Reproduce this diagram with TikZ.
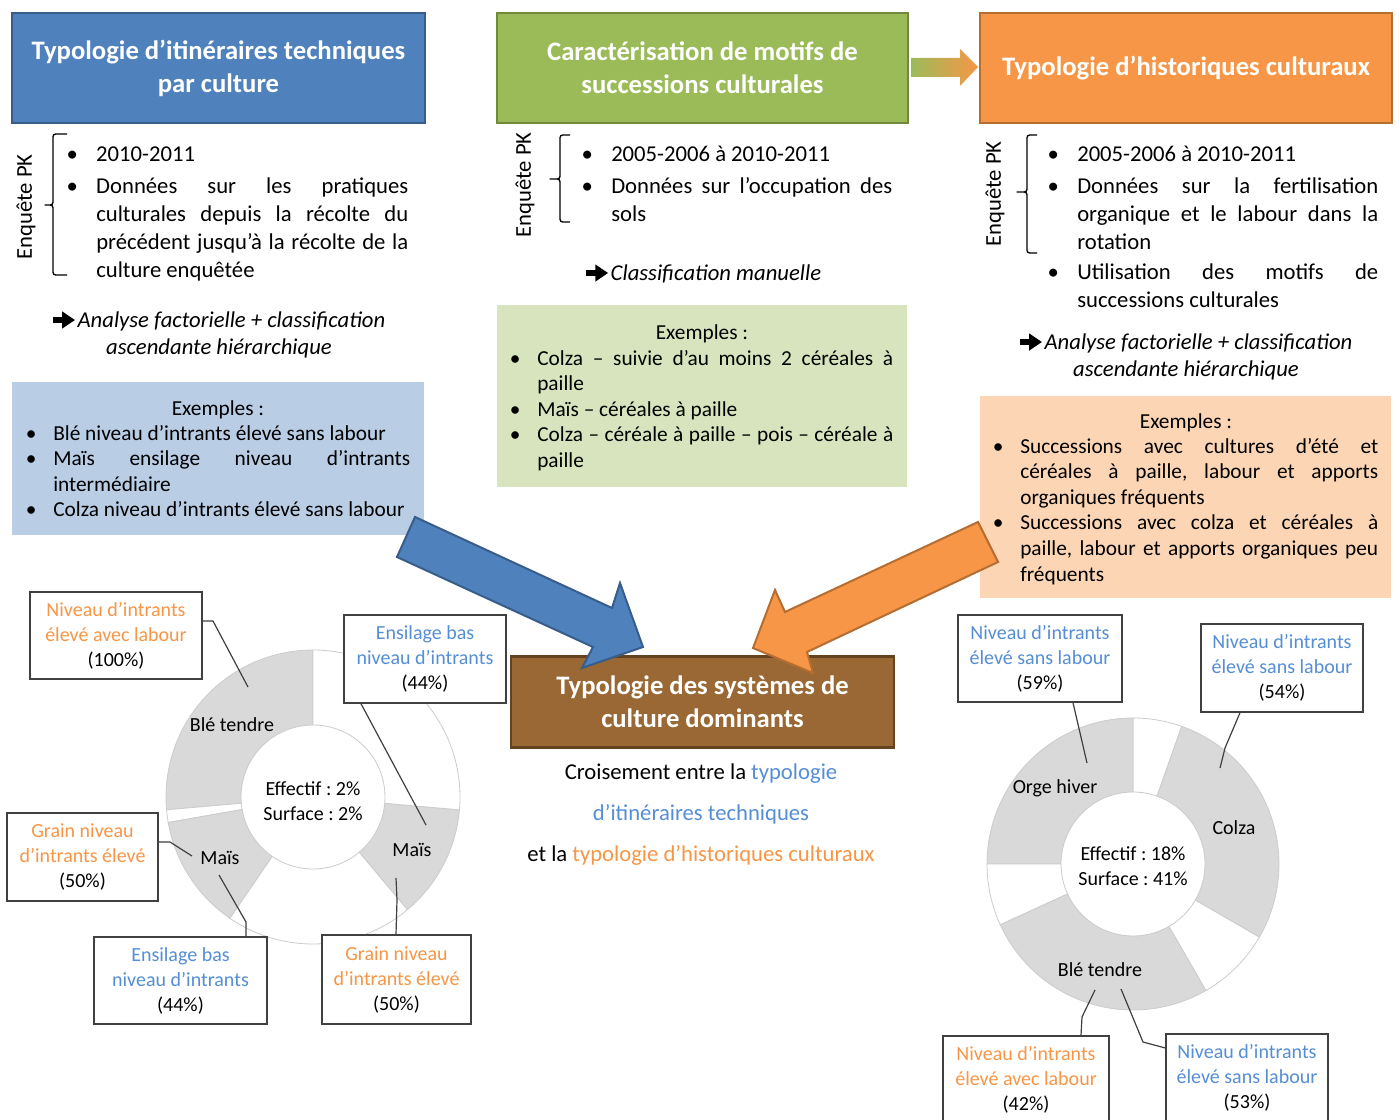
\documentclass[tikz,border=0pt]{standalone}
\usepackage{fontspec}
\setmainfont{Carlito}
\frenchspacing
\usetikzlibrary{calc}
\definecolor{hblue}{HTML}{4F81BD}
\definecolor{hblueD}{HTML}{385D8A}
\definecolor{hgreen}{HTML}{9BBB59}
\definecolor{hgreenD}{HTML}{71893F}
\definecolor{horange}{HTML}{F79646}
\definecolor{horangeD}{HTML}{B66D31}
\definecolor{hbrown}{HTML}{9A6834}
\definecolor{hbrownD}{HTML}{654321}
\definecolor{lblue}{HTML}{B9CDE5}
\definecolor{lgreen}{HTML}{D7E4BD}
\definecolor{lorange}{HTML}{FCD5B5}
\definecolor{tblue}{HTML}{558ED5}
\definecolor{torange}{HTML}{F79646}
\definecolor{pgray}{HTML}{D9D9D9}
\definecolor{pline}{HTML}{CCCCCC}
\definecolor{leadc}{HTML}{404040}
\newcommand\J[2]{\makebox[\dimexpr#1pt*3/4\relax][s]{#2}}
\newcommand\bb{\llap{\hbox to 22.3pt{\textbullet\hfil}}}
\newcommand\be{\llap{\hbox to 20.5pt{\textbullet\hfil}}}
\newcommand\arr{\tikz[baseline=-0.33em]{\fill (0em,-0.14em) rectangle (0.5em,0.14em); \fill (0.42em,-0.38em) -- (0.98em,0em) -- (0.42em,0.38em) -- cycle;}\hspace{0.12em}}
\newcommand\seg[5]{\path[fill=#3, draw=pline, line width=0.6pt] (#1:#4) arc[start angle=#1, end angle=#2, radius=#4] -- (#2:#5) arc[start angle=#2, end angle=#1, radius=#5] -- cycle;}
\tikzset{
  hdr/.style={line width=2pt, text=white, align=center, inner sep=0pt,
    font=\fontsize{20}{24.75}\selectfont\bfseries},
  body/.style={anchor=base west, inner sep=0pt, font=\fontsize{17}{21}\selectfont},
  exbody/.style={anchor=base west, inner sep=0pt, font=\fontsize{16}{19.2}\selectfont},
  extitle/.style={anchor=base, inner sep=0pt, font=\fontsize{16}{19.2}\selectfont},
  method/.style={anchor=base, inner sep=0pt, font=\fontsize{17}{20.25}\selectfont\itshape},
  enq/.style={rotate=90, inner sep=0pt, font=\fontsize{17}{21}\selectfont},
  brace/.style={line width=1pt, rounded corners=2pt},
  exbox/.style={inner sep=0pt},
  cbox/.style={draw=leadc, line width=1.1pt, fill=white, align=center, inner sep=0pt,
    font=\fontsize{15}{18.75}\selectfont},
  lbl/.style={inner sep=0pt, align=center, font=\fontsize{15}{18.75}\selectfont},
  leader/.style={draw=leadc, line width=0.9pt},
  bigarrow/.style={line width=1.5pt, line join=miter}
}
\begin{document}
\begin{tikzpicture}[x=0.75pt,y=-0.75pt]
\useasboundingbox (0,0) rectangle (1399,1120);
\fill[white] (0,0) rectangle (1399,1120);

% ---------- headers ----------
\node[hdr, fill=hblue, draw=hblueD, minimum width=413*0.75pt, minimum height=110*0.75pt] (H1) at (218.5,68) {Typologie d’itinéraires techniques\\par culture};
\node[hdr, fill=hgreen, draw=hgreenD, minimum width=411*0.75pt, minimum height=110*0.75pt] (H2) at (702.5,68) {Caractérisation de motifs de\\successions culturales};
\node[hdr, fill=horange, draw=horangeD, minimum width=412*0.75pt, minimum height=110*0.75pt] (H3) at (1186,68) {Typologie d’historiques culturaux};
\shade[left color=hgreen, right color=horange] (911,58) -- (960,58) -- (960,49) -- (978,67) -- (960,86) -- (960,77) -- (911,77) -- cycle;

% ---------- left column ----------
\node[enq] (eqL) at (26,207) {Enquête PK};
\draw[brace] (67,134) -- (53,134) -- (53,205) -- (43,205) -- (53,205) -- (53,275) -- (67,275);
\node[body] (bodyL) at (96,161.5) {\begin{tabular}[t]{@{}l@{}}
\bb 2010-2011\\[3pt]
\bb\J{312}{Données sur les pratiques}\\
\J{312}{culturales depuis la récolte du}\\
\J{312}{précédent jusqu’à la récolte de la}\\
culture enquêtée
\end{tabular}};
\node[method] (mL) at (219,327.5) {\begin{tabular}[t]{@{}c@{}}\arr Analyse factorielle + classification\\ascendante hiérarchique\end{tabular}};
\node[exbox, fill=lblue, minimum width=412*0.75pt, minimum height=153*0.75pt] (exBL) at (218,458.5) {};
\node[extitle] (exTL) at (218,415) {Exemples :};
\node[exbody] (exL) at (53,440) {\begin{tabular}[t]{@{}l@{}}
\be Blé niveau d’intrants élevé sans labour\\
\be\J{357}{Maïs ensilage niveau d’intrants}\\
intermédiaire\\
\be Colza niveau d’intrants élevé sans labour
\end{tabular}};

% ---------- middle column ----------
\node[enq] (eqM) at (525,185) {Enquête PK};
\draw[brace] (570,135) -- (560,135) -- (560,179) -- (548,179) -- (560,179) -- (560,222) -- (570,222);
\node[body] (bodyM) at (611,161.5) {\begin{tabular}[t]{@{}l@{}}
\bb 2005-2006 à 2010-2011\\[3pt]
\bb\J{281}{Données sur l’occupation des}\\
sols
\end{tabular}};
\node[method] (mM) at (703.5,280.5) {\arr Classification manuelle};
\node[exbox, fill=lgreen, minimum width=410*0.75pt, minimum height=182*0.75pt] (exBM) at (702,396) {};
\node[extitle] (exTM) at (702,339) {Exemples :};
\node[exbody] (exM) at (537,365) {\begin{tabular}[t]{@{}l@{}}
\be\J{356}{Colza – suivie d’au moins 2 céréales à}\\
paille\\
\be Maïs – céréales à paille\\
\be\J{356}{Colza – céréale à paille – pois – céréale à}\\
paille
\end{tabular}};

% ---------- right column ----------
\node[enq] (eqR) at (995,194) {Enquête PK};
\draw[brace] (1037,135) -- (1027,135) -- (1027,192) -- (1015,192) -- (1027,192) -- (1027,253) -- (1037,253);
\node[body] (bodyR) at (1077,161.5) {\begin{tabular}[t]{@{}l@{}}
\bb 2005-2006 à 2010-2011\\[3pt]
\bb\J{301}{Données sur la fertilisation}\\
\J{301}{organique et le labour dans la}\\
rotation\\[1.5pt]
\bb\J{301}{Utilisation des motifs de}\\
successions culturales
\end{tabular}};
\node[method] (mR) at (1186,349.5) {\begin{tabular}[t]{@{}c@{}}\arr Analyse factorielle + classification\\ascendante hiérarchique\end{tabular}};
\node[exbox, fill=lorange, minimum width=411*0.75pt, minimum height=202*0.75pt] (exBR) at (1185.5,497) {};
\node[extitle] (exTR) at (1186,428) {Exemples :};
\node[exbody] (exR) at (1020,453) {\begin{tabular}[t]{@{}l@{}}
\be\J{358}{Successions avec cultures d’été et}\\
\J{358}{céréales à paille, labour et apports}\\
organiques fréquents\\
\be\J{358}{Successions avec colza et céréales à}\\
\J{358}{paille, labour et apports organiques peu}\\
fréquents
\end{tabular}};

% ---------- centre ----------
\node[hdr, fill=hbrown, draw=hbrownD, minimum width=383*0.75pt, minimum height=91*0.75pt] (SC) at (702.5,702) {Typologie des systèmes de\\culture dominants};
\node[inner sep=0pt, align=center, font=\fontsize{17}{30.75}\selectfont] (cross) at (701,815) {Croisement entre la \textcolor{tblue}{typologie}\\\textcolor{tblue}{d’itinéraires techniques}\\et la \textcolor{torange}{typologie d’historiques culturaux}};

% big arrows
\draw[bigarrow, fill=hblue, draw=hblueD] (415,517) -- (612,608) -- (620,583) -- (643,647) -- (582,668) -- (593,647) -- (397,557) -- cycle;
\draw[bigarrow, fill=horange, draw=horangeD] (978,522) -- (785,612) -- (775,590) -- (753,648) -- (813,673) -- (807,652) -- (998,562) -- cycle;

% ---------- left donut ----------
\begin{scope}[shift={(313,797)}, yscale=-1]
\seg{90}{185}{pgray}{147}{72}
\seg{185}{190}{white}{147}{72}
\seg{190}{235.6}{pgray}{147}{72}
\seg{235.6}{310}{white}{147}{72}
\seg{310}{355}{pgray}{147}{72}
\seg{355}{450}{white}{147}{72}
\end{scope}
\node[lbl] (lBle) at (232,725) {Blé tendre};
\node[lbl] (lMaisL) at (220,858) {Maïs};
\node[lbl] (lMaisR) at (412,850) {Maïs};
\node[lbl] (lCtr) at (313,801) {Effectif : 2\%\\Surface : 2\%};

\coordinate (pA) at (248,687);
\coordinate (pB) at (426,825);
\coordinate (pC) at (192,856);
\coordinate (pD) at (219,875);
\coordinate (pE) at (396,878);
\node[cbox, minimum width=172*0.75pt, minimum height=87*0.75pt] (A) at (116,635.5) {\textcolor{torange}{Niveau d’intrants}\\\textcolor{torange}{élevé avec labour}\\(100\%)};
\node[cbox, minimum width=162*0.75pt, minimum height=88*0.75pt] (B) at (425,659) {\textcolor{tblue}{Ensilage bas}\\\textcolor{tblue}{niveau d’intrants}\\(44\%)};
\node[cbox, minimum width=151*0.75pt, minimum height=88*0.75pt] (C) at (82.5,857) {\textcolor{torange}{Grain niveau}\\\textcolor{torange}{d’intrants élevé}\\(50\%)};
\node[cbox, minimum width=173*0.75pt, minimum height=87*0.75pt] (D) at (180.5,980.5) {\textcolor{tblue}{Ensilage bas}\\\textcolor{tblue}{niveau d’intrants}\\(44\%)};
\node[cbox, minimum width=149*0.75pt, minimum height=89*0.75pt] (E) at (396.5,979.5) {\textcolor{torange}{Grain niveau}\\\textcolor{torange}{d’intrants élevé}\\(50\%)};
\draw[leader] (A.east |- 0,621) -- (213,621) -- (pA);
\draw[leader] (B.south -| 361,0) -- (pB);
\draw[leader] (C.east |- 0,842) -- (170,842) -- (pC);
\draw[leader] (D.north -| 246,0) -- (246,922) -- (pD);
\draw[leader] (E.north -| 396,0) -- (397,900) -- (pE);

% ---------- right donut ----------
\begin{scope}[shift={(1133,864)}, yscale=-1]
\seg{70.5}{90}{white}{146}{72}
\seg{90}{180}{pgray}{146}{72}
\seg{180}{204.6}{white}{146}{72}
\seg{204.6}{300}{pgray}{146}{72}
\seg{300}{330}{white}{146}{72}
\seg{330}{430.5}{pgray}{146}{72}
\end{scope}
\node[lbl] (rOrge) at (1055,788) {Orge hiver};
\node[lbl] (rColza) at (1234,828) {Colza};
\node[lbl] (rBle) at (1100,970) {Blé tendre};
\node[lbl] (rCtr) at (1133,866) {Effectif : 18\%\\Surface : 41\%};

\coordinate (pF) at (1087,763);
\coordinate (pG) at (1220,768);
\coordinate (pH) at (1095,990);
\coordinate (pI) at (1121,989);
\node[cbox, minimum width=164*0.75pt, minimum height=87*0.75pt] (F) at (1040,658.5) {\textcolor{tblue}{Niveau d’intrants}\\\textcolor{tblue}{élevé sans labour}\\(59\%)};
\node[cbox, minimum width=162*0.75pt, minimum height=88*0.75pt] (G) at (1282,668) {\textcolor{tblue}{Niveau d’intrants}\\\textcolor{tblue}{élevé sans labour}\\(54\%)};
\node[cbox, minimum width=166*0.75pt, minimum height=87*0.75pt] (H) at (1026,1079.5) {\textcolor{torange}{Niveau d’intrants}\\\textcolor{torange}{élevé avec labour}\\(42\%)};
\node[cbox, minimum width=162*0.75pt, minimum height=87*0.75pt] (I) at (1247,1077.5) {\textcolor{tblue}{Niveau d’intrants}\\\textcolor{tblue}{élevé sans labour}\\(53\%)};
\draw[leader] (F.south -| 1073,0) -- (pF);
\draw[leader] (G.south -| 1240,0) -- (1225,748) -- (pG);
\draw[leader] (H.north -| 1081,0) -- (1082,1017) -- (pH);
\draw[leader] (I.west |- 0,1048) -- (1143,1042) -- (pI);
\end{tikzpicture}
\end{document}
